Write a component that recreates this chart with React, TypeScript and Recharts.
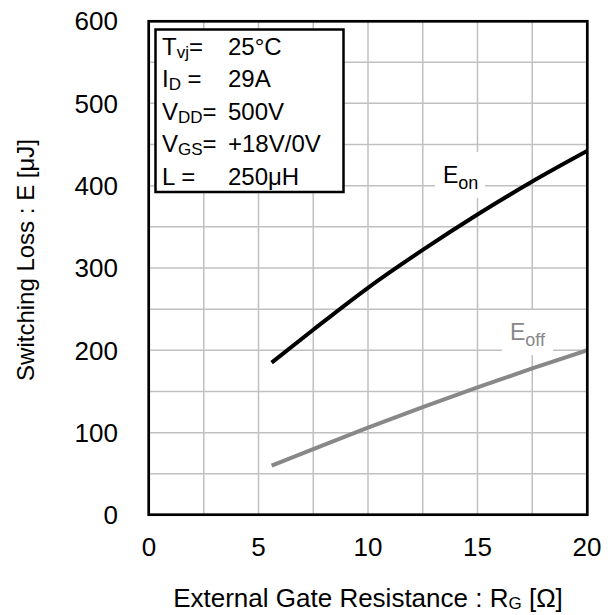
import { CartesianGrid, Line, LineChart, XAxis, YAxis } from "recharts";

// Switching loss vs external gate resistance
const rg = [5.6, 7.5, 10, 12.5, 15, 17.5, 20];
const eOn = [185, 225, 276, 322, 365, 405, 442];
const eOff = [60, 80, 106, 131, 155, 178, 200];

const xTicks = [0, 5, 10, 15, 20];
const yTicks = [0, 100, 200, 300, 400, 500, 600];
const xGrid = [2.5, 5, 7.5, 10, 12.5, 15, 17.5];
const yGrid = [50, 100, 150, 200, 250, 300, 350, 400, 450, 500, 550];

const condSym = ["T", "I", "V", "V", "L"];
const condSub = ["vj", "D", "DD", "GS", ""];
const condEq = ["=", " =", "=", "=", " ="];
const condVal = ["25°C", "29A", "500V", "+18V/0V", "250μH"];

const FONT = "'Liberation Sans', Arial, sans-serif";
const W = 611;
const H = 615;

const data = rg.map((r, i) => ({ rg: r, eon: eOn[i], eoff: eOff[i] }));

export default function App() {
  return (
    <div style={{ position: "absolute", left: 0, top: 0, width: W, height: H, background: "#fff", fontFamily: FONT }}>
      <LineChart width={W} height={H} data={data} margin={{ top: 21, right: 24, bottom: 0, left: 0 }}>
        <CartesianGrid stroke="#c0c0c0" strokeWidth={1.5} verticalValues={xGrid} horizontalValues={yGrid} />
        <XAxis
          dataKey="rg"
          type="number"
          domain={[0, 20]}
          ticks={xTicks}
          height={100}
          tickSize={0}
          tickMargin={23}
          axisLine={false}
          tick={{ fontSize: 26, fill: "#000", fontFamily: FONT }}
          allowDataOverflow
        />
        <YAxis
          type="number"
          domain={[0, 600]}
          ticks={yTicks}
          width={149}
          tickSize={0}
          tickMargin={31}
          axisLine={false}
          tick={{ fontSize: 26, fill: "#000", fontFamily: FONT }}
          allowDataOverflow
        />
        <Line dataKey="eon" type="monotone" stroke="#000" strokeWidth={4} dot={false} isAnimationActive={false} />
        <Line dataKey="eoff" type="monotone" stroke="#888" strokeWidth={4} dot={false} isAnimationActive={false} />
      </LineChart>

      <svg width={W} height={H} style={{ position: "absolute", left: 0, top: 0, pointerEvents: "none" }} fontFamily={FONT}>
        {/* plot frame */}
        <rect x={148.7} y={21.3} width={438.6} height={493.4} fill="none" stroke="#000" strokeWidth={2.7} />

        {/* test conditions box */}
        <rect x={155.5} y={29.5} width={188} height={162.5} fill="#fff" stroke="#000" strokeWidth={2.5} />
        {condSym.map((s, i) => {
          const y = 55 + i * 32.4;
          return (
            <g key={i}>
              <text x={162} y={y} fontSize={24} fill="#000">
                {s}
                {condSub[i] ? (
                  <tspan fontSize={17} dy={3}>
                    {condSub[i]}
                  </tspan>
                ) : null}
                <tspan dy={condSub[i] ? -3 : 0}>{condEq[i]}</tspan>
              </text>
              <text x={228} y={y} fontSize={24} fill="#000">
                {condVal[i]}
              </text>
            </g>
          );
        })}

        {/* curve labels */}
        <rect x={435} y={152} width={50} height={46} fill="#fff" />
        <text x={443} y={183} fontSize={23} fill="#000">
          E<tspan fontSize={18} dy={6}>on</tspan>
        </text>
        <rect x={502} y={310} width={51} height={45} fill="#fff" />
        <text x={510} y={340} fontSize={23} fill="#888">
          E<tspan fontSize={18} dy={6}>off</tspan>
        </text>

        {/* axis titles */}
        <text x={368} y={607} fontSize={26} textAnchor="middle" fill="#000">
          External Gate Resistance : R<tspan fontSize={17} dy={2}>G</tspan>
          <tspan dy={-2}> [Ω]</tspan>
        </text>
        <text transform="translate(33.5,260) rotate(-90)" fontSize={24} textAnchor="middle" fill="#000">
          Switching Loss : E [μJ]
        </text>
      </svg>
    </div>
  );
}
